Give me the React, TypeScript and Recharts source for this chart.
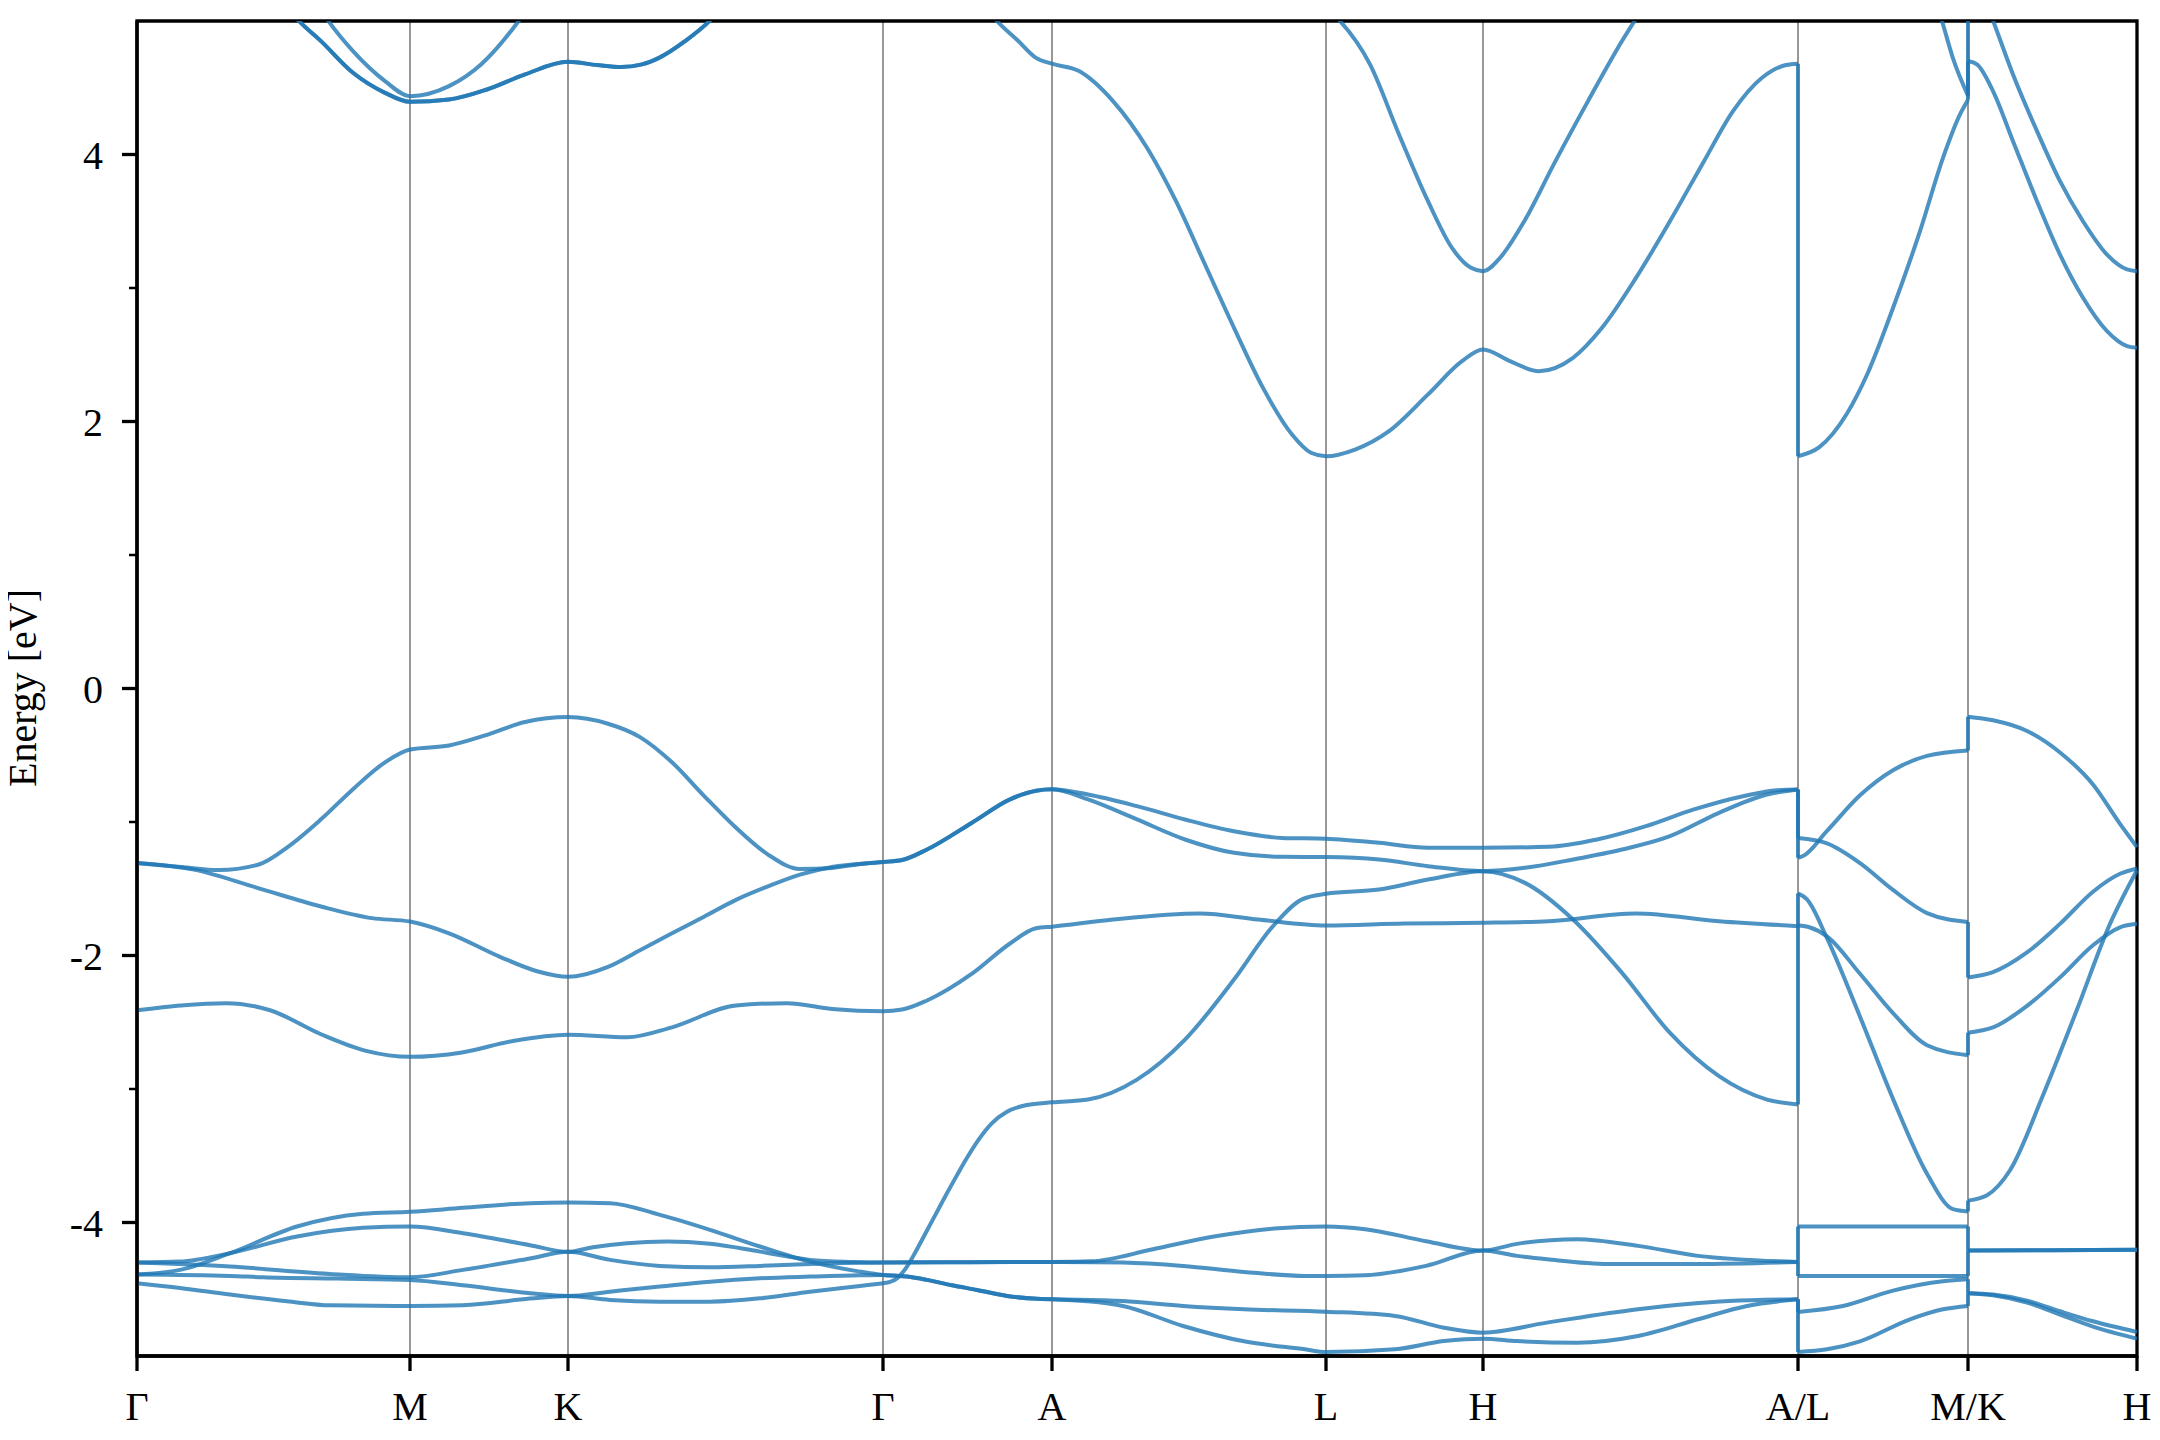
import { LineChart, Line, XAxis, YAxis, ReferenceLine, ReferenceArea } from "recharts";

type Pt = [number, number]; // [k-distance, energy in eV]

const kNodes = [0, 273, 431, 746, 915, 1189, 1346, 1661, 1831, 2000];
const kLabels = ["Γ", "M", "K", "Γ", "A", "L", "H", "A/L", "M/K", "H"];
const yTicks = [-4, -3, -2, -1, 0, 1, 2, 3, 4];

// first branch: Γ–M–K–Γ–A–L–H–A  (k 0 … 1661)
const v1: Pt[] = [
  [0, -4.455], [43, -4.49], [93, -4.54], [150, -4.59], [193, -4.62], [273, -4.625], [326, -4.62], [393, -4.57], [431, -4.55],
  [473, -4.58], [523, -4.593], [573, -4.593], [623, -4.568], [673, -4.518], [723, -4.475], [740, -4.46], [746, -4.455],
  [753, -4.445], [760, -4.418], [770, -4.33], [780, -4.2], [790, -4.06], [800, -3.92], [810, -3.78], [820, -3.645],
  [830, -3.515], [842, -3.375], [855, -3.255], [870, -3.17], [890, -3.12], [915, -3.1],
  [951, -3.079], [1000, -2.93], [1048, -2.63], [1097, -2.18], [1136, -1.78], [1165, -1.58], [1189, -1.538],
  [1242, -1.506], [1291, -1.431], [1346, -1.368],
  [1388, -1.456], [1436, -1.73], [1485, -2.13], [1533, -2.58], [1582, -2.904], [1630, -3.079], [1661, -3.116],
];
const v2: Pt[] = [
  [0, -4.39], [93, -4.4], [126, -4.41], [200, -4.42], [273, -4.43], [326, -4.47], [393, -4.53], [431, -4.55],
  [473, -4.518], [523, -4.48], [573, -4.443], [623, -4.418], [673, -4.405], [723, -4.395], [746, -4.393],
  [770, -4.405], [790, -4.43], [815, -4.47], [840, -4.505], [870, -4.55], [900, -4.572], [915, -4.575],
  [950, -4.59], [986, -4.625], [1046, -4.775], [1107, -4.89], [1168, -4.95], [1189, -4.97],
  [1258, -4.95], [1307, -4.888], [1346, -4.87],
  [1380, -4.888], [1440, -4.9], [1501, -4.85], [1561, -4.725], [1610, -4.625], [1661, -4.575],
];
const v3: Pt[] = [
  [0, -4.3], [93, -4.33], [193, -4.385], [273, -4.41], [326, -4.355], [393, -4.27], [431, -4.22],
  [473, -4.28], [523, -4.325], [573, -4.335], [623, -4.325], [673, -4.31], [746, -4.3],
  [830, -4.297], [915, -4.295],
  [986, -4.3], [1046, -4.325], [1107, -4.37], [1168, -4.4], [1189, -4.4],
  [1228, -4.395], [1289, -4.325], [1346, -4.21],
  [1380, -4.25], [1410, -4.275], [1471, -4.31], [1561, -4.31], [1661, -4.295],
];
const v4: Pt[] = [
  [0, -4.3], [43, -4.293], [93, -4.23], [160, -4.105], [226, -4.04], [273, -4.03], [326, -4.08], [393, -4.17], [431, -4.22],
  [456, -4.185], [490, -4.155], [530, -4.143], [573, -4.16], [623, -4.218], [673, -4.28], [716, -4.295], [746, -4.3],
  [830, -4.297], [915, -4.295],
  [955, -4.29], [1016, -4.2], [1077, -4.105], [1137, -4.045], [1189, -4.03],
  [1228, -4.05], [1289, -4.14], [1346, -4.21],
  [1380, -4.16], [1440, -4.125], [1501, -4.175], [1561, -4.25], [1661, -4.295],
];
const v5: Pt[] = [
  [0, -4.39], [43, -4.355], [93, -4.23], [160, -4.03], [226, -3.935], [273, -3.92], [326, -3.89], [393, -3.855], [431, -3.85],
  [473, -3.855], [523, -3.943], [573, -4.055], [623, -4.18], [673, -4.293], [723, -4.368], [746, -4.393],
  [770, -4.405], [790, -4.43], [815, -4.47], [840, -4.505], [870, -4.55], [900, -4.572], [915, -4.575],
  [986, -4.588], [1046, -4.625], [1107, -4.65], [1189, -4.668],
  [1258, -4.7], [1307, -4.788], [1346, -4.825],
  [1410, -4.75], [1501, -4.65], [1592, -4.588], [1661, -4.575],
];
const v6: Pt[] = [
  [0, -2.41], [44, -2.374], [89, -2.357], [133, -2.41], [184, -2.59], [229, -2.714], [273, -2.759], [325, -2.726],
  [376, -2.64], [431, -2.593], [490, -2.613], [535, -2.538], [599, -2.374], [650, -2.357], [695, -2.4], [746, -2.417],
  [765, -2.405], [790, -2.337], [835, -2.136], [873, -1.91], [899, -1.796], [915, -1.784],
  [976, -1.73], [1063, -1.685], [1121, -1.73], [1189, -1.775],
  [1267, -1.76], [1346, -1.755],
  [1412, -1.743], [1499, -1.685], [1582, -1.743], [1661, -1.78],
];
const v7: Pt[] = [
  [0, -1.307], [57, -1.357], [121, -1.495], [184, -1.633], [235, -1.72], [273, -1.746], [312, -1.834], [363, -2.01],
  [401, -2.12], [431, -2.16], [471, -2.085], [503, -1.96], [535, -1.834], [567, -1.709], [599, -1.583], [631, -1.482],
  [663, -1.394], [695, -1.337], [746, -1.3],
  [765, -1.285], [790, -1.206], [835, -1.005], [873, -0.83], [899, -0.766], [915, -0.755],
  [951, -0.831], [1000, -0.981], [1048, -1.131], [1097, -1.231], [1145, -1.261], [1189, -1.263],
  [1242, -1.281], [1291, -1.331], [1346, -1.368],
  [1388, -1.343], [1436, -1.281], [1485, -1.206], [1533, -1.106], [1582, -0.931], [1630, -0.794], [1661, -0.757],
];
const v8: Pt[] = [
  [0, -1.307], [44, -1.337], [82, -1.36], [121, -1.32], [152, -1.18], [184, -0.98], [216, -0.754], [248, -0.553],
  [273, -0.457], [312, -0.427], [350, -0.347], [388, -0.251], [431, -0.214], [471, -0.264], [503, -0.364], [535, -0.553],
  [567, -0.804], [599, -1.043], [631, -1.244], [663, -1.352], [695, -1.344], [726, -1.312], [746, -1.3],
  [765, -1.285], [790, -1.206], [835, -1.005], [873, -0.83], [899, -0.766], [915, -0.755],
  [951, -0.794], [1000, -0.881], [1048, -0.981], [1097, -1.069], [1145, -1.119], [1189, -1.126],
  [1242, -1.156], [1291, -1.193], [1346, -1.193],
  [1412, -1.186], [1460, -1.131], [1509, -1.031], [1557, -0.906], [1606, -0.807], [1640, -0.762], [1661, -0.757],
];
const c1: Pt[] = [
  [0, 6.4], [100, 5.6], [140, 5.2], [162, 5.0], [184, 4.849], [216, 4.612], [248, 4.462], [273, 4.395], [312, 4.412],
  [350, 4.487], [388, 4.6], [431, 4.694], [460, 4.67], [484, 4.655], [505, 4.675], [522, 4.724], [548, 4.849], [573, 5.004],
  [620, 5.5], [746, 6.2], [800, 5.6], [840, 5.2], [860, 5.0], [880, 4.86], [899, 4.724], [915, 4.68],
  [942, 4.625], [976, 4.4], [1010, 4.05], [1039, 3.65], [1068, 3.176], [1097, 2.702], [1126, 2.252], [1155, 1.903],
  [1174, 1.766], [1189, 1.74],
  [1218, 1.79], [1252, 1.928], [1291, 2.203], [1325, 2.452], [1346, 2.54],
  [1373, 2.452], [1402, 2.377], [1436, 2.477], [1465, 2.702], [1499, 3.076], [1533, 3.501], [1567, 3.95], [1596, 4.325],
  [1625, 4.575], [1649, 4.67], [1661, 4.68],
];
const c1b: Pt[] = [
  [0, 6.4], [100, 5.6], [140, 5.2], [162, 5.0], [184, 4.849], [216, 4.612], [248, 4.462], [273, 4.395], [312, 4.412],
  [350, 4.487], [388, 4.6], [431, 4.694], [460, 4.67], [484, 4.655], [505, 4.675], [522, 4.724], [548, 4.849], [573, 5.004],
  [620, 5.5], [746, 6.2],
];
const c2: Pt[] = [
  [0, 6.6], [120, 5.8], [170, 5.25], [191, 5.004], [216, 4.774], [248, 4.55], [273, 4.437], [312, 4.512], [344, 4.674],
  [382, 5.004], [431, 5.6], [746, 7.0], [915, 5.9], [1100, 5.4], [1189, 5.1],
  [1203, 5.0], [1233, 4.675], [1262, 4.15], [1291, 3.65], [1315, 3.3], [1334, 3.151], [1346, 3.126],
  [1363, 3.226], [1388, 3.51], [1417, 3.93], [1451, 4.4], [1485, 4.85], [1506, 5.1], [1540, 5.5], [1661, 6.3],
];

// second branch: L–M  (k 1661 … 1831)
const lm1: Pt[] = [[1661, -4.97], [1690, -4.95], [1723, -4.89], [1773, -4.725], [1806, -4.65], [1831, -4.625]];
const lm2: Pt[] = [[1661, -4.67], [1706, -4.625], [1756, -4.51], [1806, -4.44], [1831, -4.425]];
const lm3: Pt[] = [[1661, -4.4], [1746, -4.4], [1831, -4.4]];
const lm4: Pt[] = [[1661, -4.03], [1746, -4.03], [1831, -4.03]];
const lm5: Pt[] = [[1661, -1.776], [1673, -1.79], [1690, -1.856], [1723, -2.137], [1756, -2.431], [1790, -2.672], [1831, -2.747]];
const lm6: Pt[] = [[1661, -1.535], [1670, -1.58], [1690, -1.87], [1723, -2.458], [1756, -3.074], [1790, -3.635], [1816, -3.9], [1831, -3.917]];
const lm7: Pt[] = [[1661, -1.12], [1690, -1.16], [1723, -1.308], [1756, -1.509], [1790, -1.682], [1831, -1.749]];
const lm8: Pt[] = [[1661, -1.268], [1666, -1.255], [1690, -1.067], [1723, -0.8], [1756, -0.612], [1790, -0.505], [1831, -0.465]];
const lmC1: Pt[] = [[1661, 1.74], [1682, 1.806], [1710, 2.06], [1730, 2.35], [1756, 2.85], [1783, 3.426], [1806, 3.975], [1823, 4.3], [1831, 4.41]];
const lmC2: Pt[] = [[1661, 7.6], [1740, 6.3], [1790, 5.35], [1805, 5.0], [1816, 4.72], [1831, 4.44]];

// third branch: K–H  (k 1831 … 2000)
const kh1: Pt[] = [[1831, -4.53], [1856, -4.545], [1890, -4.6], [1923, -4.69], [1956, -4.78], [2000, -4.87]];
const kh2: Pt[] = [[1831, -4.53], [1856, -4.54], [1890, -4.585], [1923, -4.665], [1956, -4.74], [2000, -4.82]];
const kh3: Pt[] = [[1831, -4.21], [1915, -4.207], [2000, -4.205]];
const kh4: Pt[] = [[1831, -4.21], [1915, -4.207], [2000, -4.205]];
const kh5: Pt[] = [[1831, -3.836], [1850, -3.796], [1873, -3.609], [1906, -3.047], [1940, -2.405], [1973, -1.763], [2000, -1.361]];
const kh6: Pt[] = [[1831, -2.578], [1856, -2.539], [1890, -2.378], [1923, -2.164], [1956, -1.923], [1983, -1.789], [2000, -1.763]];
const kh7: Pt[] = [[1831, -2.164], [1856, -2.124], [1890, -1.977], [1923, -1.763], [1956, -1.522], [1983, -1.388], [2000, -1.348]];
const kh8: Pt[] = [[1831, -0.211], [1856, -0.238], [1890, -0.318], [1923, -0.479], [1956, -0.719], [1983, -1.014], [2000, -1.188]];
const khC1: Pt[] = [[1831, 4.7], [1840, 4.675], [1856, 4.475], [1876, 4.1], [1900, 3.65], [1923, 3.25], [1946, 2.927], [1970, 2.677], [1990, 2.565], [2000, 2.552]];
const khC2: Pt[] = [[1831, 5.5], [1845, 5.22], [1856, 5.004], [1876, 4.6], [1900, 4.175], [1923, 3.8], [1946, 3.5], [1970, 3.25], [1990, 3.139], [2000, 3.126]];

// band jumps where the path breaks: [energy before, energy after]
const jumpsAL: Pt[] = [
  [-4.575, -4.97], [-4.575, -4.67], [-4.295, -4.4], [-4.295, -4.03],
  [-3.116, -1.776], [-1.78, -1.535], [-0.757, -1.268], [-0.757, -1.12], [4.68, 1.74],
];
const jumpsMK: Pt[] = [
  [-4.625, -4.53], [-4.425, -4.53], [-4.4, -4.21], [-4.03, -4.21],
  [-3.917, -3.836], [-2.747, -2.578], [-1.749, -2.164], [-0.465, -0.211], [4.41, 4.7], [4.44, 5.5],
];

const runs: Pt[][] = [
  v1, v2, v3, v4, v5, v6, v7, v8, c1, c1b, c2,
  lm1, lm2, lm3, lm4, lm5, lm6, lm7, lm8, lmC1, lmC2,
  kh1, kh2, kh3, kh4, kh5, kh6, kh7, kh8, khC1, khC2,
];

const FONT = "'Liberation Serif', 'Times New Roman', serif";
const BLUE = "#1f77b4";

const rows = (pts: Pt[]) => pts.map(([k, e]) => ({ k, e }));
const jumpRows = (k: number, [a, b]: Pt) => [{ k, e: a }, { k, e: b }];

function XTick(props: any) {
  const { x, y, payload } = props;
  const label = kLabels[kNodes.indexOf(payload.value)];
  return (
    <g>
      <line x1={x} x2={x} y1={y} y2={y + 15} stroke="#000" strokeWidth={3.3} />
      <text x={x} y={y + 64} textAnchor="middle" fontSize={40} fontFamily={FONT} fill="#000">{label}</text>
    </g>
  );
}

function YTick(props: any) {
  const { x, y, payload } = props;
  const v = payload.value as number;
  const major = v % 2 === 0;
  return (
    <g>
      <line x1={x - (major ? 15 : 8)} x2={x} y1={y} y2={y} stroke="#000" strokeWidth={major ? 3.3 : 2.5} />
      {major && (
        <text x={x - 34} y={y + 14} textAnchor="end" fontSize={40} fontFamily={FONT} fill="#000">{String(v)}</text>
      )}
    </g>
  );
}

const lineProps = {
  dataKey: "e",
  stroke: BLUE,
  strokeOpacity: 0.8,
  strokeWidth: 4,
  dot: false,
  activeDot: false,
  isAnimationActive: false,
};

export default function App() {
  return (
    <div style={{ position: "relative", width: 2144, height: 1420 }}>
      <LineChart width={2144} height={1420} margin={{ top: 13, right: 15, bottom: 12, left: 0 }}>
        <XAxis
          type="number"
          dataKey="k"
          domain={[0, 2000]}
          ticks={kNodes}
          interval={0}
          height={60}
          tickSize={0}
          tickMargin={0}
          tick={XTick}
          axisLine={{ stroke: "#000", strokeWidth: 3.3 }}
        />
        <YAxis
          type="number"
          domain={[-5, 5]}
          allowDataOverflow
          ticks={yTicks}
          interval={0}
          width={129}
          tickSize={0}
          tickMargin={0}
          tick={YTick}
          axisLine={{ stroke: "#000", strokeWidth: 3.3 }}
        />
        {kNodes.slice(1, -1).map((k, i) => (
          <ReferenceLine key={`v${i}`} x={k} stroke="#000" strokeOpacity={0.45} strokeWidth={1.8} />
        ))}
        {runs.map((pts, i) => (
          <Line key={`r${i}`} data={rows(pts)} type="monotone" {...lineProps} />
        ))}
        {jumpsAL.map((p, i) => (
          <Line key={`al${i}`} data={jumpRows(kNodes[7], p)} type="linear" {...lineProps} />
        ))}
        {jumpsMK.map((p, i) => (
          <Line key={`mk${i}`} data={jumpRows(kNodes[8], p)} type="linear" {...lineProps} />
        ))}
        <ReferenceArea x1={0} x2={2000} y1={-5} y2={5} fill="none" stroke="#000" strokeWidth={3.3} />
      </LineChart>
      <svg width={60} height={1420} style={{ position: "absolute", left: 0, top: 0, overflow: "visible" }}>
        <text
          x={28}
          y={680}
          transform="rotate(-90, 28, 680)"
          textAnchor="middle"
          fontSize={40}
          fontFamily={FONT}
          fill="#000"
        >
          Energy [eV]
        </text>
      </svg>
    </div>
  );
}
